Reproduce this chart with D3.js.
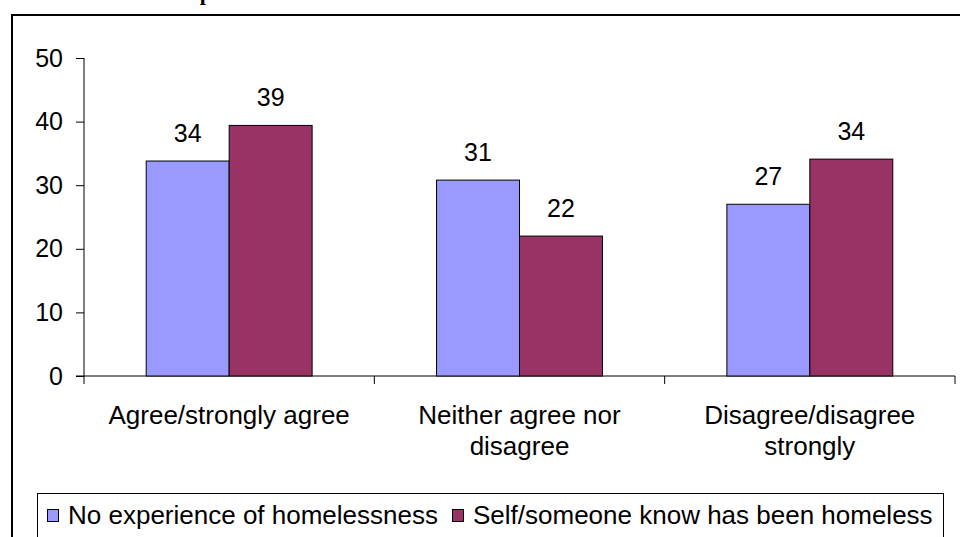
<!DOCTYPE html>
<html>
<head>
<meta charset="utf-8">
<script src="https://cdn.jsdelivr.net/npm/d3@7"></script>
<style>
  body { margin: 0; background: #fff; }
  svg { display: block; }
  text { font-family: "Liberation Sans", Arial, sans-serif; }
</style>
</head>
<body>
<script>
// Chart data
var categories = [["Agree/strongly agree"], ["Neither agree nor", "disagree"], ["Disagree/disagree", "strongly"]];
var seriesNames = ["No experience of homelessness", "Self/someone know has been homeless"];
var noExperience = [33.8, 30.8, 27.0];
var selfOrKnown = [39.4, 22.0, 34.1];
var yTicks = [0, 10, 20, 30, 40, 50];

var colors = ["#9999FF", "#993366"];

var width = 960,
    height = 537;

var fontSize = "26px";

var svg = d3.select("body")
    .append("svg")
    .attr("width", width)
    .attr("height", height);

// title, cropped by the top of the picture
svg.append("text")
    .attr("x", 174)
    .attr("y", 0)
    .attr("font-weight", "bold")
    .attr("font-size", "22px")
    .style("font-family", "'Liberation Serif', serif")
    .text("Experience");

// outer chart border (runs off the right and bottom)
svg.append("rect")
    .attr("x", 12)
    .attr("y", 15)
    .attr("width", 980)
    .attr("height", 560)
    .attr("fill", "none")
    .attr("stroke", "#000")
    .attr("stroke-width", 2);

var plot = { left: 84, right: 955, top: 58, bottom: 376 };

var x0 = d3.scaleBand()
    .domain(d3.range(categories.length))
    .range([plot.left, plot.right])
    .paddingInner(0)
    .paddingOuter(0);

var x1 = d3.scaleBand()
    .domain([0, 1])
    .range([0, x0.bandwidth()])
    .paddingOuter(0.75)
    .paddingInner(0);

var y = d3.scaleLinear()
    .domain([0, 50])
    .range([plot.bottom, plot.top]);

// y axis
var yAxis = svg.append("g")
    .attr("transform", "translate(" + plot.left + ",0)")
    .call(d3.axisLeft(y).tickValues(yTicks).tickSize(8).tickPadding(13));
yAxis.selectAll("text")
    .attr("fill", "#000")
    .style("font-size", "25px")
    .style("font-family", "'Liberation Sans', Arial, sans-serif");
yAxis.selectAll("line, path").attr("stroke", "#000");
yAxis.select(".domain").attr("d", "M0," + plot.top + "V" + plot.bottom);

// x axis with ticks at category boundaries
var xg = svg.append("g");
xg.append("line")
    .attr("x1", plot.left - 8).attr("x2", plot.right)
    .attr("y1", plot.bottom).attr("y2", plot.bottom)
    .attr("stroke", "#000");
xg.selectAll(".xtick")
    .data(d3.range(categories.length + 1))
    .enter()
    .append("line")
    .attr("x1", function(i) { return i < categories.length ? x0(i) : plot.right; })
    .attr("x2", function(i) { return i < categories.length ? x0(i) : plot.right; })
    .attr("y1", plot.bottom)
    .attr("y2", plot.bottom + 8)
    .attr("stroke", "#000");

// category labels
categories.forEach(function(lines, i) {
    var t = svg.append("text")
        .attr("x", x0(i) + x0.bandwidth() / 2)
        .attr("y", 424)
        .attr("text-anchor", "middle")
        .style("font-size", fontSize);
    lines.forEach(function(line, j) {
        t.append("tspan")
            .attr("x", x0(i) + x0.bandwidth() / 2)
            .attr("dy", j === 0 ? 0 : 31)
            .text(line);
    });
});

// bars
var series = [noExperience, selfOrKnown];
series.forEach(function(vals, s) {
    var g = svg.append("g");
    g.selectAll("rect")
        .data(vals)
        .enter()
        .append("rect")
        .attr("x", function(d, i) { return x0(i) + x1(s); })
        .attr("y", function(d) { return y(d); })
        .attr("width", x1.bandwidth())
        .attr("height", function(d) { return y(0) - y(d); })
        .attr("fill", colors[s])
        .attr("stroke", "#000")
        .attr("stroke-width", 1);
    g.selectAll("text")
        .data(vals)
        .enter()
        .append("text")
        .attr("x", function(d, i) { return x0(i) + x1(s) + x1.bandwidth() / 2; })
        .attr("y", function(d) { return y(d) - 19; })
        .attr("text-anchor", "middle")
        .style("font-size", "25px")
        .text(function(d) { return Math.round(d); });
});

// legend
svg.append("rect")
    .attr("x", 37.5)
    .attr("y", 493.5)
    .attr("width", 906)
    .attr("height", 80)
    .attr("fill", "#fff")
    .attr("stroke", "#000");

var legendX = [47, 452];
seriesNames.forEach(function(name, s) {
    svg.append("rect")
        .attr("x", legendX[s] + 0.5)
        .attr("y", 509.5)
        .attr("width", 11)
        .attr("height", 12)
        .attr("fill", colors[s])
        .attr("stroke", "#000");
    svg.append("text")
        .attr("x", legendX[s] + 21)
        .attr("y", 524)
        .style("font-size", fontSize)
        .text(name);
});
</script>
</body>
</html>
